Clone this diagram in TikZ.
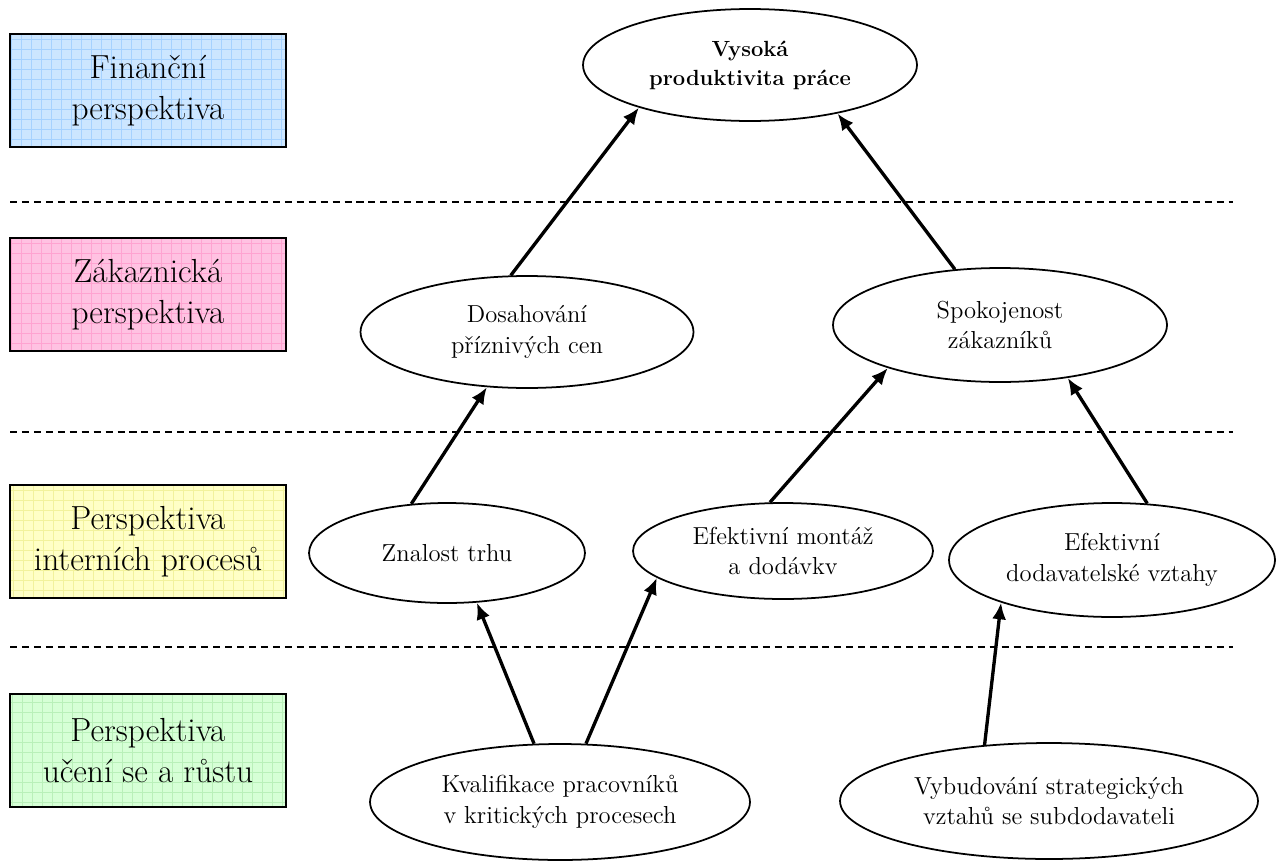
\documentclass[tikz,border=0pt]{standalone}
\usepackage{tikz}
\usetikzlibrary{shapes,arrows.meta}
\definecolor{finfill}{HTML}{CCE6FF}
\definecolor{fingrid}{HTML}{A6D2FF}
\definecolor{zakfill}{HTML}{FFC2E2}
\definecolor{zakgrid}{HTML}{FFA3D1}
\definecolor{profill}{HTML}{FFFFC6}
\definecolor{progrid}{HTML}{F2F29C}
\definecolor{ucefill}{HTML}{D6FFD6}
\definecolor{ucegrid}{HTML}{B9F0B9}

\begin{document}
\begin{tikzpicture}[
    x=0.02cm, y=-0.02cm,
    persp/.style 2 args={
        draw=black, line width=1.2pt,
        fill=#1,
        minimum width=5.52cm, minimum height=2.26cm,
        inner sep=0pt, align=center,
        font=\fontsize{19}{23}\selectfont,
        path picture={
          \draw[#2, line width=0.5pt]
            (path picture bounding box.south west) grid[step=0.2cm]
            (path picture bounding box.north east);
        }
    },
    goal/.style 2 args={
        ellipse, draw, line width=1pt,
        inner sep=0pt, align=center,
        minimum width=#1, minimum height=#2,
        font=\fontsize{14}{17.5}\selectfont
    },
    level/.style={dashed, line width=0.8pt, dash pattern=on 4pt off 2.8pt},
    link/.style={line width=1.9pt, -{Latex[length=9.5pt, width=8pt]}}
]
\useasboundingbox (0,0) rectangle (1288,862);

\node[persp={finfill}{fingrid}] (fin) at (148,90.5) {Finanční\\perspektiva};
\node[persp={zakfill}{zakgrid}] (zak) at (148,294.5) {Zákaznická\\perspektiva};
\node[persp={profill}{progrid}] (pro) at (148,541.5) {Perspektiva\\interních procesů};
\node[persp={ucefill}{ucegrid}] (uce) at (148,750.5) {Perspektiva\\učení se a růstu};

\coordinate (l1a) at (10,202);  \coordinate (l1b) at (1233,202);
\coordinate (l2a) at (10,432);  \coordinate (l2b) at (1233,432);
\coordinate (l3a) at (10,647);  \coordinate (l3b) at (1233,647);
\draw[level] (l1a) -- (l1b);
\draw[level] (l2a) -- (l2b);
\draw[level] (l3a) -- (l3b);

\node[goal={6.68cm}{2.24cm}, font=\fontsize{12.5}{16.5}\selectfont\bfseries] (prod) at (750,65)
    {Vysoká\\produktivita práce};
\node[goal={6.66cm}{2.24cm}] (ceny) at (527,332) {Dosahování\\příznivých cen};
\node[goal={6.68cm}{2.28cm}] (spok) at (1000,325) {Spokojenost\\zákazníků};
\node[goal={5.52cm}{2.0cm}] (trh) at (447,553) {Znalost trhu};
\node[goal={6.0cm}{1.92cm}] (mont) at (783,551) {Efektivní montáž\\a dodávkv};
\node[goal={6.52cm}{2.28cm}] (dod) at (1112,560) {Efektivní\\dodavatelské vztahy};
\node[goal={7.6cm}{2.32cm}] (kval) at (560,802) {Kvalifikace pracovníků\\v kritických procesech};
\node[goal={8.36cm}{2.32cm}] (vyb) at (1049,801) {Vybudování strategických\\vztahů se subdodavateli};

\draw[link] (ceny.106) -- (prod.201);
\draw[link] (spok.129) -- (prod.331);
\draw[link] (trh.126) -- (ceny.234);
\draw[link] (mont.105) -- (spok.201);
\draw[link] (dod.58) -- (spok.322);
\draw[link] (kval.114) -- (trh.301);
\draw[link] (kval.66) -- (mont.192);
\draw[link] (vyb.139) -- (dod.201);
\end{tikzpicture}
\end{document}
